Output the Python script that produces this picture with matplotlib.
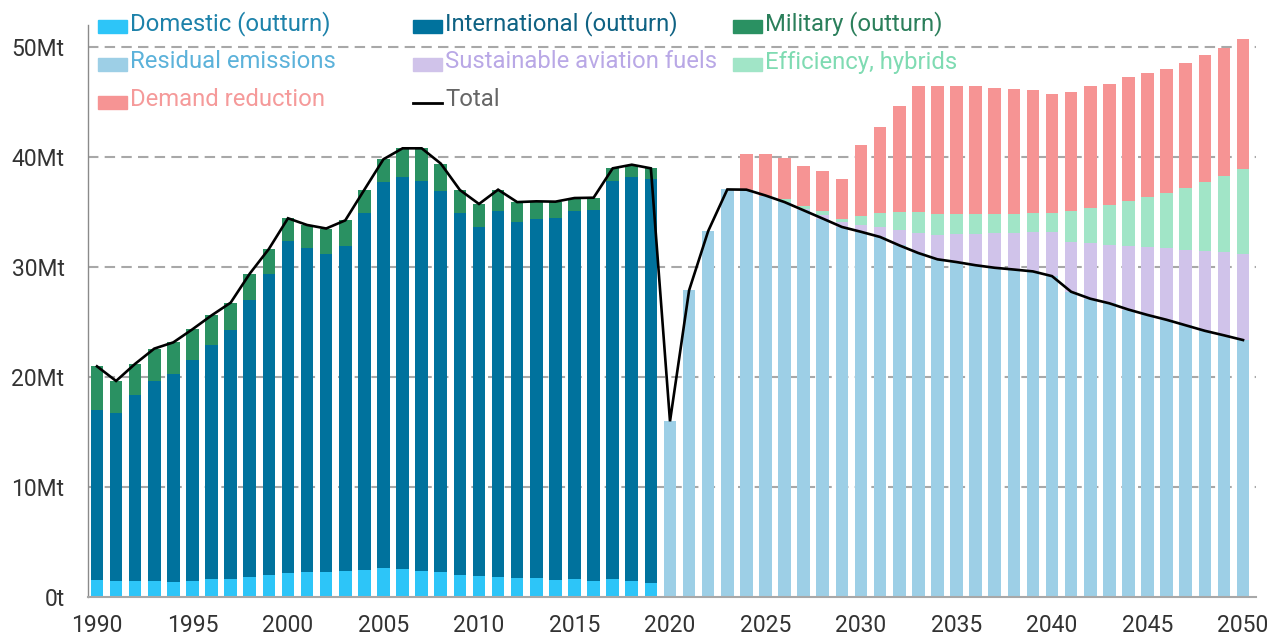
import matplotlib
matplotlib.use("Agg")
import matplotlib.pyplot as plt
from matplotlib.patches import Rectangle
from matplotlib.lines import Line2D
import numpy as np

plt.rcParams['font.family'] = ['Roboto', 'DejaVu Sans']

# ---- Data ----
hist_years = list(range(1990, 2020))
domestic = [1.52, 1.50, 1.50, 1.48, 1.36, 1.42, 1.60, 1.67, 1.79, 2.03,
            2.15, 2.25, 2.25, 2.33, 2.43, 2.67, 2.52, 2.40, 2.25, 2.00,
            1.88, 1.79, 1.70, 1.70, 1.58, 1.60, 1.50, 1.60, 1.50, 1.30]
international = [15.51, 15.26, 16.90, 18.12, 18.91, 20.13, 21.30, 22.60, 25.21, 27.34,
                 30.21, 29.51, 28.95, 29.57, 32.47, 35.06, 35.66, 35.45, 34.69, 32.88,
                 31.76, 33.27, 32.40, 32.66, 32.87, 33.46, 33.68, 36.22, 36.68, 36.67]
military = [3.94, 2.88, 2.80, 2.98, 2.88, 2.79, 2.70, 2.49, 2.40, 2.27,
            2.07, 2.06, 2.30, 2.34, 2.13, 2.07, 2.61, 2.94, 2.46, 2.12,
            2.09, 1.97, 1.80, 1.61, 1.49, 1.21, 1.12, 1.15, 1.12, 1.00]

proj_years = list(range(2020, 2051))
residual = [15.97, 27.88, 33.27, 37.05, 37.03, 36.50, 35.90, 35.15, 34.40, 33.64,
            33.20, 32.73, 31.97, 31.27, 30.70, 30.45, 30.16, 29.93, 29.77, 29.60,
            29.17, 27.75, 27.12, 26.70, 26.13, 25.64, 25.20, 24.70, 24.20, 23.79, 23.36]
saf = [0, 0, 0, 0, 0, 0, 0, 0.15, 0.30, 0.46,
       0.65, 0.87, 1.43, 1.85, 2.24, 2.55, 2.81, 3.14, 3.30, 3.54,
       4.00, 4.55, 5.02, 5.34, 5.77, 6.21, 6.51, 6.88, 7.25, 7.53, 7.79]
efficiency = [0, 0, 0, 0, 0, 0, 0.25, 0.25, 0.36, 0.27,
              0.79, 1.28, 1.57, 1.91, 1.88, 1.85, 1.88, 1.78, 1.78, 1.78,
              1.75, 2.80, 3.24, 3.64, 4.10, 4.52, 5.03, 5.62, 6.31, 6.97, 7.73]
demand = [0, 0, 0, 0, 3.21, 3.80, 3.73, 3.65, 3.67, 3.60,
          6.42, 7.85, 9.63, 11.40, 11.61, 11.60, 11.65, 11.45, 11.30, 11.17,
          10.80, 10.85, 11.07, 11.00, 11.24, 11.23, 11.26, 11.33, 11.50, 11.63, 11.82]

y_ticks = [0, 10, 20, 30, 40, 50]
y_tick_labels = ["0t", "10Mt", "20Mt", "30Mt", "40Mt", "50Mt"]
x_ticks = list(range(1990, 2051, 5))

labels = ["Domestic (outturn)", "International (outturn)", "Military (outturn)",
          "Residual emissions", "Sustainable aviation fuels", "Efficiency, hybrids",
          "Demand reduction", "Total"]

# ---- Style ----
c_dom = "#2dc5f8"
c_int = "#00729d"
c_mil = "#2a9162"
c_res = "#9dcfe6"
c_saf = "#d0c3ea"
c_eff = "#a1e5c7"
c_dem = "#f69494"
text_cols = ["#1d82aa", "#0f6283", "#2b7f5b", "#5cb2da", "#b9a8e6", "#7fdbb2", "#f59a9a", "#666666"]

W, H = 1282, 639
fig = plt.figure(figsize=(W / 100, H / 100), dpi=100)
ax = fig.add_axes([88 / W, 1 - 597 / H, (1256 - 88) / W, (597 - 25) / H])

bw = 0.66
hy = np.array(hist_years)
dom = np.array(domestic)
intl = np.array(international)
mil = np.array(military)
ax.bar(hy, dom, bw, color=c_dom, zorder=2)
ax.bar(hy, intl, bw, bottom=dom, color=c_int, zorder=2)
ax.bar(hy, mil, bw, bottom=dom + intl, color=c_mil, zorder=2)

py = np.array(proj_years)
res = np.array(residual)
sf = np.array(saf)
ef = np.array(efficiency)
dm = np.array(demand)
ax.bar(py, res, bw, color=c_res, zorder=2)
ax.bar(py, sf, bw, bottom=res, color=c_saf, zorder=2)
ax.bar(py, ef, bw, bottom=res + sf, color=c_eff, zorder=2)
ax.bar(py, dm, bw, bottom=res + sf + ef, color=c_dem, zorder=2)

total_x = np.concatenate([hy, py])
total_y = np.concatenate([dom + intl + mil, res])
ax.plot(total_x, total_y, color="black", lw=1.9, zorder=4, solid_joinstyle='miter')

ax.set_xlim(1989.53, 2050.68)
ax.set_ylim(0, 52)

for v in y_ticks[1:]:
    ax.axhline(v, color="#a8a8a8", lw=1.5, dashes=(5, 3), zorder=1)

ax.set_yticks(y_ticks)
ax.set_yticklabels(y_tick_labels)
ax.set_xticks(x_ticks)
ax.set_xticklabels([str(x) for x in x_ticks])
ax.tick_params(axis='both', length=0, labelsize=16.5, labelcolor="#333333")
ax.tick_params(axis='y', pad=17)
ax.tick_params(axis='x', pad=12)

for s in ["top", "right"]:
    ax.spines[s].set_visible(False)
ax.spines["left"].set_color("#8a8a8a")
ax.spines["left"].set_linewidth(1.0)
ax.spines["bottom"].set_color("#a8a8a8")
ax.spines["bottom"].set_linewidth(1.5)

# ---- Legend (manual grid) ----
col_x = [98, 413, 733]
row_y = [24, 62, 100]
patch_cols = [c_dom, c_int, c_mil, c_res, c_saf, c_eff, c_dem, None]
for i, lab in enumerate(labels):
    r, c = divmod(i, 3)
    x0 = col_x[c]
    yc = row_y[r]
    if patch_cols[i] is not None:
        fig.patches.append(Rectangle((x0 / W, 1 - (yc + 9) / H), 29 / W, 13 / H,
                                     transform=fig.transFigure, color=patch_cols[i]))
    else:
        fig.lines.append(Line2D([x0 / W, (x0 + 29) / W], [1 - (yc + 3) / H] * 2,
                                transform=fig.transFigure, color="black", lw=2))
    fig.text((x0 + 32) / W, 1 - yc / H, lab, color=text_cols[i], fontsize=17.2,
             ha="left", va="center")

fig.savefig("out.png", dpi=100)
